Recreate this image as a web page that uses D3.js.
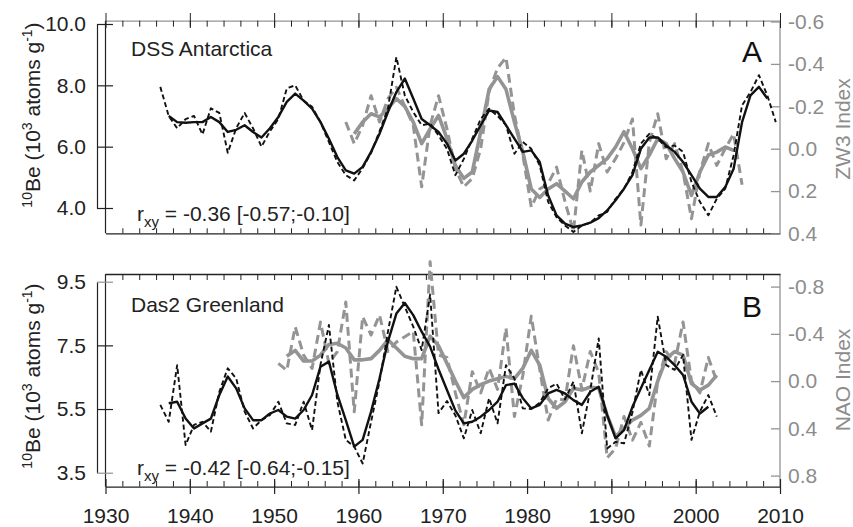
<!DOCTYPE html>
<html><head><meta charset="utf-8">
<script src="https://cdn.jsdelivr.net/npm/d3@7"></script>
<style>body{margin:0;background:#fff}svg text{font-family:"Liberation Sans",Arial,sans-serif}</style>
</head><body><svg id="c" width="853" height="527"></svg>
<script>
// ---------------- data ----------------
const xTickYears = [1930,1940,1950,1960,1970,1980,1990,2000,2010];
const leftTicksA = [10,8,6,4];
const rightTicksA = [-0.6,-0.4,-0.2,0.0,0.2,0.4];
const leftTicksB = [9.5,7.5,5.5,3.5];
const rightTicksB = [-0.8,-0.4,0.0,0.4,0.8];

// Panel A: DSS Antarctica 10Be (annual, dashed) and smoothed (solid)
const dssStart = 1936.5;
const dssAnnual = [7.95,7.0,6.6,6.9,7.0,6.4,7.25,7.1,5.8,6.6,7.1,6.6,6.0,6.5,6.9,7.9,8.0,7.5,7.3,6.8,6.15,5.5,5.07,4.9,5.3,5.8,6.5,7.25,8.92,7.67,7.13,6.7,6.75,6.37,5.93,5.07,5.6,6.26,6.9,7.24,7.0,6.7,5.77,6.15,5.93,5.39,4.2,3.7,3.43,3.22,3.43,3.52,3.76,3.87,4.3,4.63,5.17,6.1,6.42,6.26,5.98,6.04,5.83,4.85,4.2,3.76,4.3,4.63,5.72,7.35,7.78,8.33,7.67,6.8];
const dssSmoothStart = 1937.5;
const dssSmooth = [7.0,6.8,6.78,6.8,6.8,6.97,6.8,6.48,6.55,6.7,6.48,6.3,6.6,6.97,7.46,7.73,7.5,7.24,6.8,6.26,5.66,5.23,5.12,5.34,5.83,6.42,7.13,7.78,8.22,7.57,6.9,6.7,6.48,6.1,5.55,5.77,6.2,6.7,7.18,7.13,6.7,6.26,5.83,5.88,5.5,4.41,3.76,3.49,3.38,3.43,3.52,3.67,3.92,4.25,4.63,5.07,5.93,6.3,6.3,6.04,5.83,5.5,5.07,4.63,4.36,4.36,4.68,5.28,6.8,7.67,7.95,7.57];
// ZW3 index (right axis, reversed)
const zw3Start = 1958.5;
const zw3Annual = [-0.126,-0.024,-0.11,-0.25,-0.126,-0.236,-0.29,-0.2,-0.11,0.18,-0.11,-0.25,-0.094,0.094,0.18,0.14,0.0,-0.27,-0.38,-0.43,-0.16,0.03,0.275,0.19,0.165,0.087,0.25,0.39,0.008,0.2,-0.024,0.11,0.047,-0.03,-0.14,0.36,-0.03,-0.165,0.047,-0.024,0.11,0.33,0.11,-0.024,0.079,0.0,-0.07,0.17];
const zw3SmoothStart = 1959.5;
const zw3Smooth = [-0.07,-0.126,-0.165,-0.15,-0.19,-0.236,-0.2,-0.126,-0.024,-0.094,-0.157,-0.047,0.079,0.14,0.11,-0.08,-0.28,-0.34,-0.28,-0.126,0.016,0.19,0.23,0.19,0.165,0.2,0.236,0.157,0.11,0.079,0.047,-0.008,-0.08,0.0,0.094,0.03,-0.047,-0.024,0.047,0.11,0.22,0.11,0.03,0.016,-0.008,0.008];

// Panel B: Das2 Greenland 10Be
const das2Start = 1936.5;
const das2Annual = [5.63,5.1,6.88,4.37,5.0,5.1,4.79,6.04,6.78,6.46,5.42,4.89,5.15,5.31,5.73,5.05,5.0,5.73,4.84,6.9,8.14,5.73,4.53,4.32,3.79,5.1,6.36,7.93,9.34,8.71,8.09,7.35,9.1,5.37,5.75,5.3,4.58,5.47,4.74,5.84,5.05,6.88,6.46,5.52,5.5,5.7,6.15,6.3,5.8,6.36,4.74,6.1,7.72,4.26,4.47,4.42,5.4,6.73,5.94,8.4,6.88,6.73,7.2,4.53,5.42,5.94,5.26];
const das2SmoothStart = 1937.5;
const das2Smooth = [5.68,5.73,5.2,4.89,5.05,5.2,5.94,6.52,6.15,5.52,5.15,5.15,5.36,5.47,5.26,5.2,5.47,5.94,6.83,6.99,5.95,5.15,4.32,4.53,5.42,6.46,7.62,8.5,8.83,8.45,7.93,7.46,6.75,6.1,5.45,5.05,5.1,5.26,5.47,5.73,6.25,6.3,5.84,5.52,5.63,5.99,6.1,5.99,5.78,5.63,6.04,6.2,5.31,4.58,4.84,5.57,6.15,6.73,7.3,7.14,6.88,6.57,5.73,5.36,5.57];
// NAO index (right axis, reversed)
const naoStart = 1950.5;
const naoAnnual = [-0.15,-0.09,-0.46,-0.22,-0.107,-0.5,-0.15,-0.25,-0.67,0.26,-0.545,-0.39,-0.56,-0.25,-0.33,-0.375,-0.42,0.37,-1.01,-0.22,-0.2,0.1,0.37,-0.08,0.1,-0.11,0.07,-0.45,0.3,-0.05,-0.55,-0.1,0.33,0.15,0.16,-0.3,0.07,-0.25,-0.07,0.65,0.57,0.3,0.5,0.35,0.55,0.0,-0.25,-0.15,-0.5,0.0,0.1,-0.2,0.0];
const naoSmoothStart = 1951.5;
const naoSmooth = [-0.21,-0.26,-0.17,-0.17,-0.22,-0.31,-0.32,-0.28,-0.18,-0.18,-0.19,-0.26,-0.35,-0.28,-0.21,-0.19,-0.19,-0.38,-0.3,-0.15,0.0,0.14,0.07,0.03,0.0,-0.02,-0.04,-0.02,-0.11,-0.26,-0.136,0.147,0.23,0.175,0.06,0.076,0.05,0.06,0.29,0.47,0.4,0.33,0.29,0.23,0.0,-0.19,-0.25,-0.22,0.02,0.076,0.034,-0.05];

// ---------------- drawing ----------------
const svg = d3.select("#c");
const GRAY = "#949494", GRAYTXT = "#8c8c8c", INK = "#222";
const FONT = '"Liberation Sans",Arial,sans-serif';
const fmt = d => d.toFixed(1);
const x = d3.scaleLinear().domain([1930, 2010]).range([105.5, 780]);
const minorYears = d3.range(1932, 2010, 2);

const panels = [
  {frameTop: 20.7, frameBot: 233.3,
   yL: d3.scaleLinear().domain([10, 4]).range([24, 208]), leftTicks: leftTicksA,
   yR: d3.scaleLinear().domain([-0.6, 0.4]).range([21.5, 233.5]), rightTicks: rightTicksA,
   beA: [dssStart, dssAnnual], beS: [dssSmoothStart, dssSmooth],
   ixA: [zw3Start, zw3Annual], ixS: [zw3SmoothStart, zw3Smooth],
   site: "DSS Antarctica", siteY: 56, letter: "A", letterY: 62,
   r: "-0.36 [-0.57;-0.10]", rY: 221, ixName: "ZW3 Index", titleY: 115, ixTitleY: 129},
  {frameTop: 274, frameBot: 486.7,
   yL: d3.scaleLinear().domain([9.5, 3.5]).range([281.7, 472.7]), leftTicks: leftTicksB,
   yR: d3.scaleLinear().domain([-0.8, 0.8]).range([286.6, 475.6]), rightTicks: rightTicksB,
   beA: [das2Start, das2Annual], beS: [das2SmoothStart, das2Smooth],
   ixA: [naoStart, naoAnnual], ixS: [naoSmoothStart, naoSmooth],
   site: "Das2 Greenland", siteY: 312, letter: "B", letterY: 317,
   r: "-0.42 [-0.64;-0.15]", rY: 475, ixName: "NAO Index", titleY: 376, ixTitleY: 380}
];

function series(start, vals) { return vals.map((v, i) => [start + i, v]); }

panels.forEach((p, pi) => {
  const g = svg.append("g");
  // frame left/right
  g.append("line").attr("x1", 105.5).attr("x2", 105.5).attr("y1", p.frameTop).attr("y2", p.frameBot).attr("stroke", INK).attr("stroke-width", 1.2);
  g.append("line").attr("x1", 780).attr("x2", 780).attr("y1", p.frameTop).attr("y2", p.frameBot).attr("stroke", GRAY).attr("stroke-width", 1.3);

  // top axis
  const topAx = g.append("g").attr("transform", `translate(0,${p.frameTop})`)
    .call(d3.axisTop(x).tickValues(minorYears).tickSize(-6).tickSizeOuter(0).tickFormat(""));
  topAx.select(".domain").attr("stroke", pi === 0 ? GRAY : INK).attr("stroke-width", 1.3);
  topAx.selectAll(".tick line").attr("stroke", INK);
  // bottom axis
  const botAx = g.append("g").attr("transform", `translate(0,${p.frameBot})`)
    .call(d3.axisBottom(x).tickValues(minorYears).tickSize(pi === 0 ? -5 : -5.7).tickSizeOuter(0).tickFormat(""));
  botAx.select(".domain").attr("stroke", INK).attr("stroke-width", 1.3);
  botAx.selectAll(".tick line").attr("stroke", INK);

  if (pi === 0) {
    g.append("g").attr("transform", "translate(0,28)")
      .call(d3.axisTop(x).tickValues(xTickYears).tickSize(15).tickFormat(""))
      .call(a => a.select(".domain").remove())
      .selectAll(".tick line").attr("stroke", INK);
  } else {
    const maj = g.append("g").attr("transform", "translate(0,479)")
      .call(d3.axisBottom(x).tickValues(xTickYears).tickSize(15).tickPadding(14).tickFormat(d => d));
    maj.select(".domain").remove();
    maj.selectAll(".tick line").attr("stroke", INK).attr("stroke-width", 1.2);
    maj.selectAll(".tick text").attr("font-size", 21).attr("fill", INK).style("font-family", FONT);
  }

  // left axis
  const la = g.append("g").attr("transform", "translate(97,0)")
    .call(d3.axisLeft(p.yL).tickValues(p.leftTicks).tickSizeInner(-16).tickSizeOuter(0).tickPadding(11).tickFormat(fmt));
  la.select(".domain").attr("stroke", INK).attr("stroke-width", 1.2);
  la.selectAll(".tick line").attr("stroke", (d, i) => (pi === 1 && (i === 0 || i === 3)) ? GRAY : INK).attr("stroke-width", 1.2);
  la.selectAll(".tick text").attr("font-size", 21).attr("fill", INK).style("font-family", FONT);

  // right axis
  const ra = g.append("g").attr("transform", "translate(780,0)")
    .call(d3.axisRight(p.yR).tickValues(p.rightTicks).tickSizeInner(-9).tickSizeOuter(0).tickPadding(8).tickFormat(fmt));
  ra.select(".domain").remove();
  ra.selectAll(".tick line").attr("stroke", GRAY).attr("stroke-width", 1.3);
  ra.selectAll(".tick text").attr("font-size", 21).attr("fill", GRAYTXT).style("font-family", FONT);

  // lines
  const lineL = d3.line().x(d => x(d[0])).y(d => p.yL(d[1]));
  const lineR = d3.line().x(d => x(d[0])).y(d => p.yR(d[1]));
  const common = sel => sel.attr("fill", "none").attr("stroke-linejoin", "round");
  g.append("path").datum(series(...p.ixA)).attr("d", lineR).call(common)
    .attr("stroke", GRAY).attr("stroke-width", 3).attr("stroke-dasharray", "9,5");
  g.append("path").datum(series(...p.ixS)).attr("d", lineR).call(common)
    .attr("stroke", GRAY).attr("stroke-width", 3.6);
  g.append("path").datum(series(...p.beA)).attr("d", lineL).call(common)
    .attr("stroke", "#111").attr("stroke-width", 1.9).attr("stroke-dasharray", "5,3");
  g.append("path").datum(series(...p.beS)).attr("d", lineL).call(common)
    .attr("stroke", "#111").attr("stroke-width", 2.4);

  // texts
  g.append("text").attr("x", 131).attr("y", p.siteY).attr("font-size", 21).attr("fill", INK).text(p.site);
  g.append("text").attr("x", 752).attr("y", p.letterY).attr("font-size", 30).attr("text-anchor", "middle").attr("fill", "#111").text(p.letter);
  const rt = g.append("text").attr("x", 137).attr("y", p.rY).attr("font-size", 21).attr("fill", INK);
  rt.append("tspan").text("r");
  rt.append("tspan").attr("font-size", 15).attr("dy", 6).text("xy");
  rt.append("tspan").attr("dy", -6).text(" = " + p.r);

  // left title
  const t = g.append("text").attr("transform", `translate(40,${p.titleY}) rotate(-90)`)
    .attr("text-anchor", "middle").attr("font-size", 21).attr("fill", INK);
  t.append("tspan").attr("font-size", 14).attr("dy", -8).text("10");
  t.append("tspan").attr("dy", 8).text("Be (10");
  t.append("tspan").attr("font-size", 14).attr("dy", -8).text("3");
  t.append("tspan").attr("dy", 8).text(" atoms g");
  t.append("tspan").attr("font-size", 14).attr("dy", -8).text("-1");
  t.append("tspan").attr("dy", 8).text(")");

  // right title
  g.append("text").attr("transform", `translate(850,${p.ixTitleY}) rotate(-90)`)
    .attr("text-anchor", "middle").attr("font-size", 21).attr("fill", GRAYTXT).text(p.ixName);
});
</script></body></html>
